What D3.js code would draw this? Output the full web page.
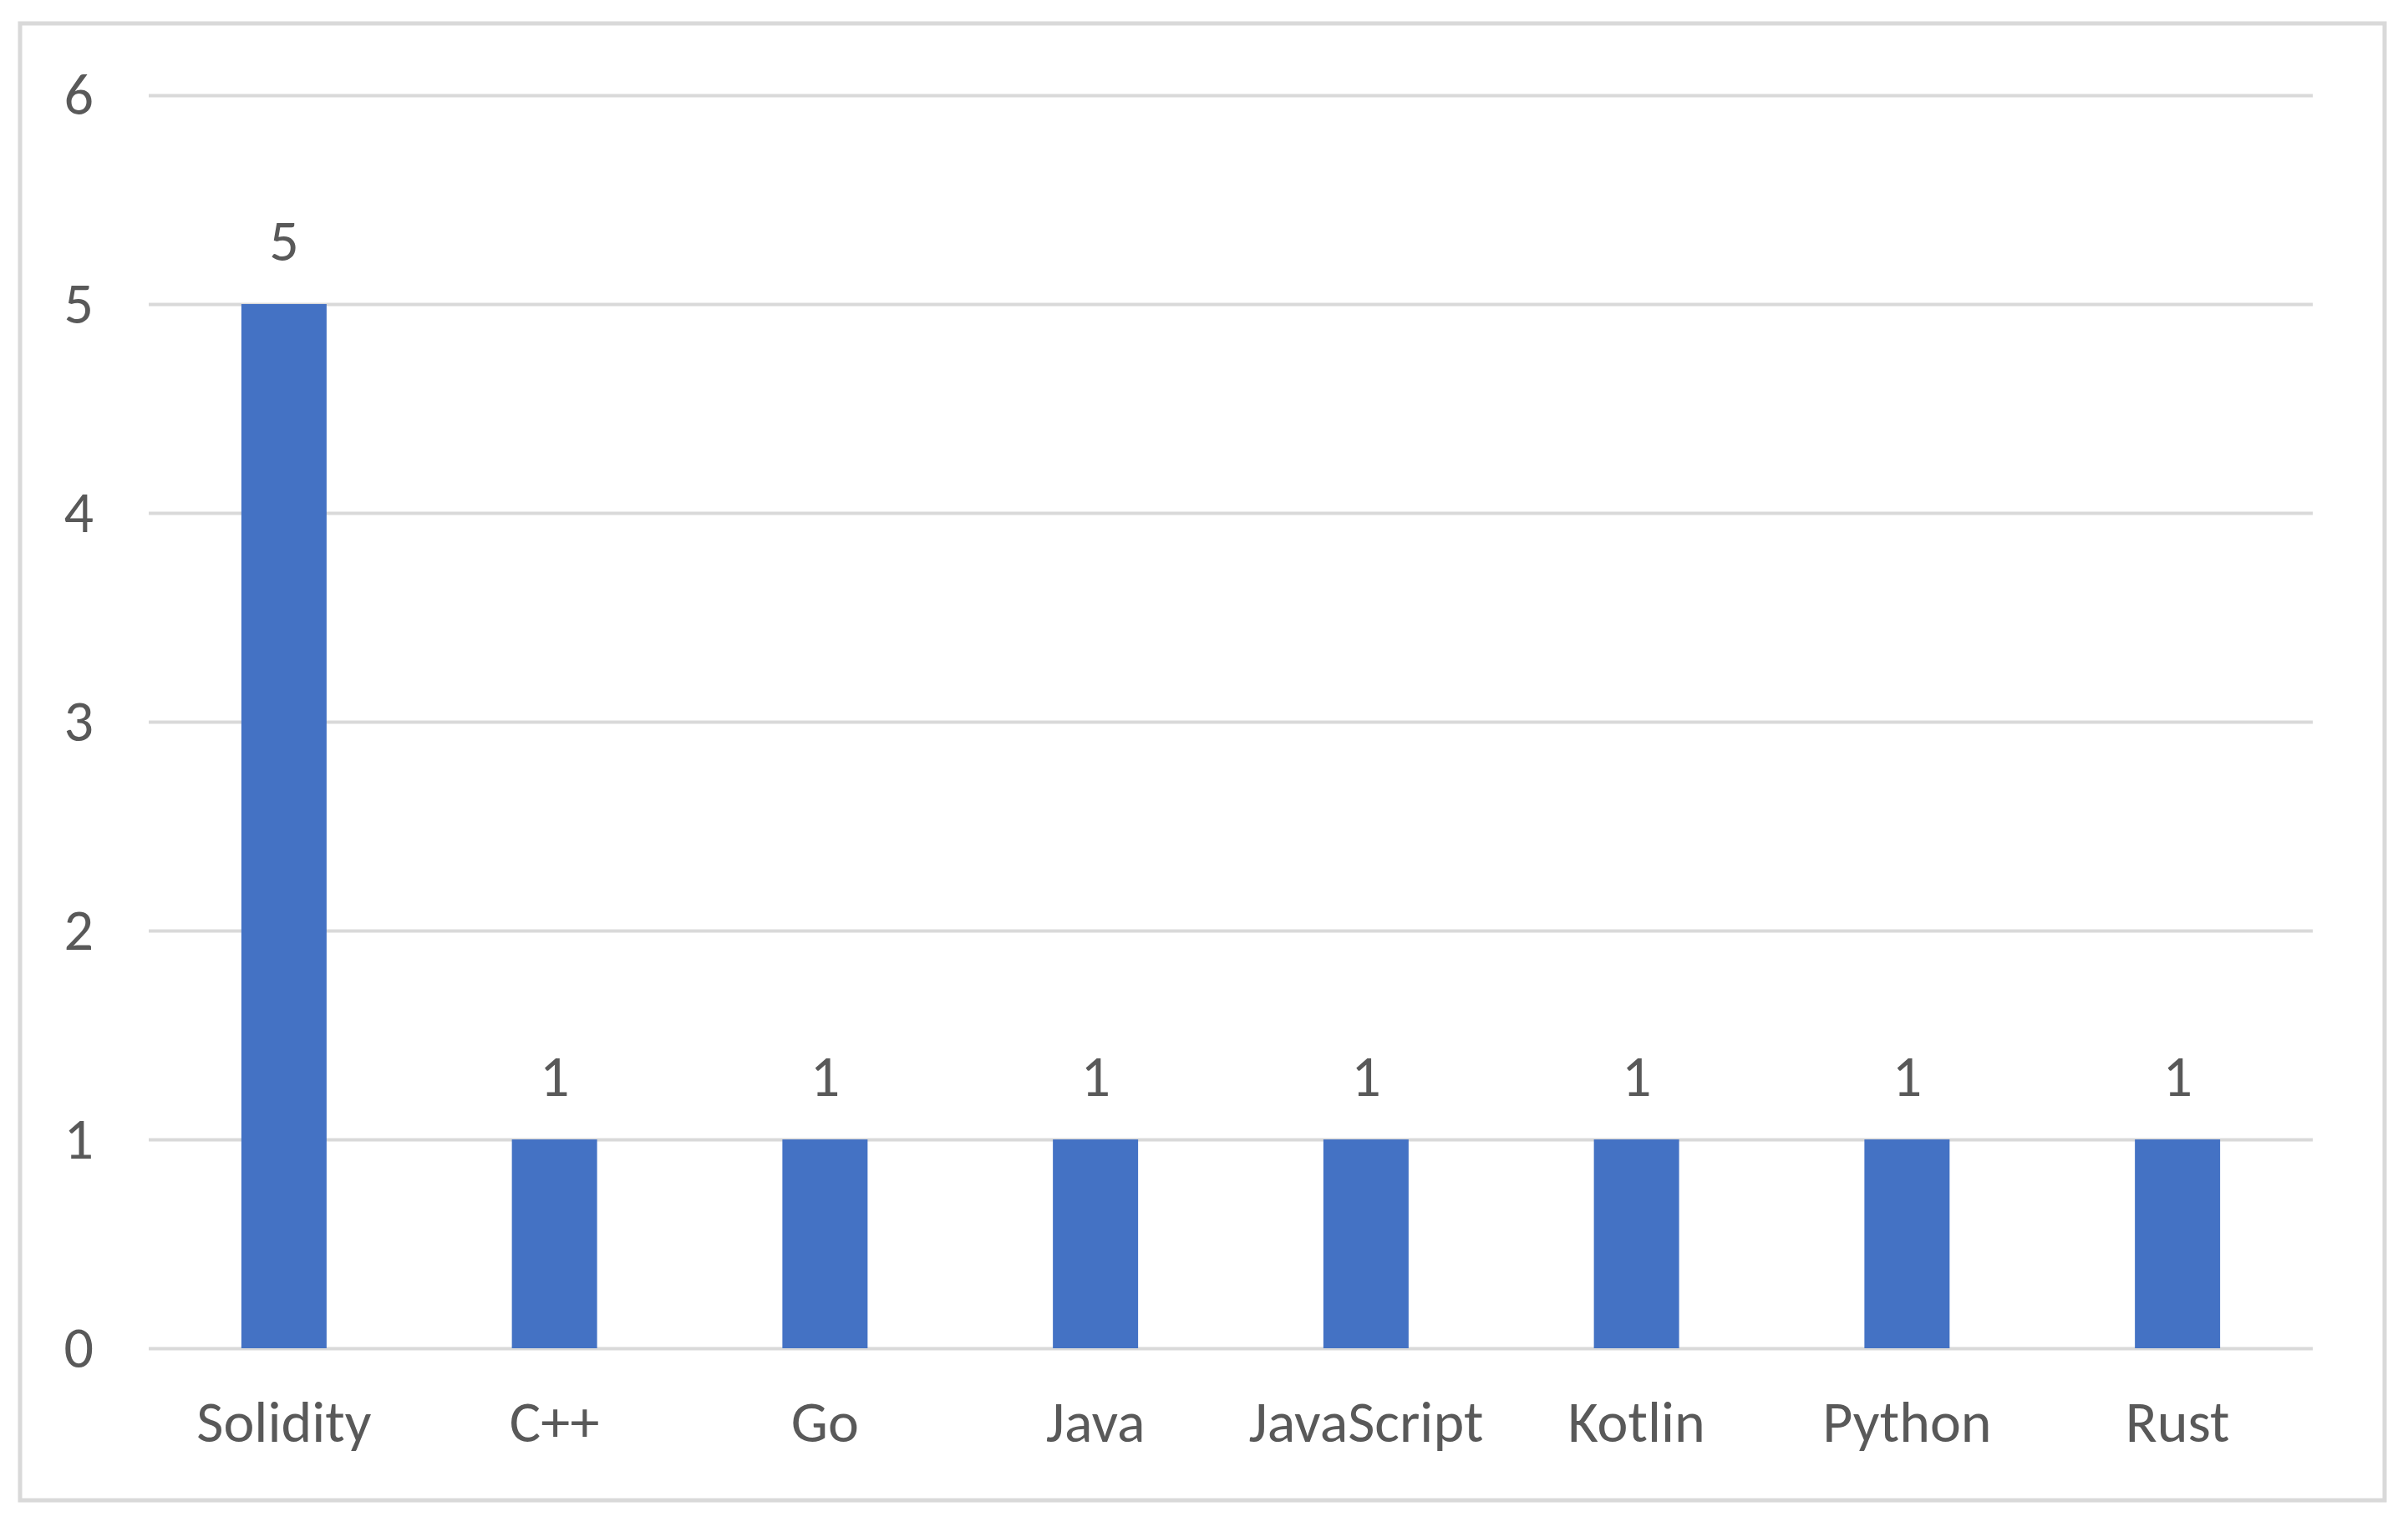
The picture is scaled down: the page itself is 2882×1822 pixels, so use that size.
<!DOCTYPE html>
<html>
<head>
<meta charset="utf-8">
<script src="https://cdn.jsdelivr.net/npm/d3@7"></script>
<style>
  body { margin: 0; background: #fff; }
  text { font-family: Calibri, Carlito, Lato, sans-serif; fill: #595959; }
</style>
</head>
<body>
<div id="chart"></div>
<script>
const languages = ['Solidity', 'C++', 'Go', 'Java', 'JavaScript', 'Kotlin', 'Python', 'Rust'];
const counts = [5, 1, 1, 1, 1, 1, 1, 1];
const yTicks = [0, 1, 2, 3, 4, 5, 6];

const data = languages.map((name, i) => ({ name: name, count: counts[i] }));

const width = 2882;
const height = 1822;
const margin = { top: 114, right: 114, bottom: 208, left: 178 };
const fontSize = 70;

const svg = d3.select('#chart')
    .append('svg')
    .attr('width', width)
    .attr('height', height);

// chart area border
svg.append('rect')
    .attr('x', 24)
    .attr('y', 28)
    .attr('width', 2830)
    .attr('height', 1768)
    .attr('fill', '#fff')
    .attr('stroke', '#d9d9d9')
    .attr('stroke-width', 5);

const x = d3.scaleBand()
    .domain(languages)
    .range([margin.left, width - margin.right])
    .paddingInner(0.685)
    .paddingOuter(0.3425);

const y = d3.scaleLinear()
    .domain([0, 6])
    .range([height - margin.bottom, margin.top]);

// gridlines + y labels
const yAxis = svg.append('g')
    .attr('transform', `translate(${margin.left},0)`)
    .call(d3.axisLeft(y).tickValues(yTicks).tickSize(-(width - margin.left - margin.right)).tickPadding(66).tickFormat(d3.format('d')));

yAxis.select('.domain').remove();
yAxis.selectAll('.tick line')
    .attr('stroke', '#d9d9d9')
    .attr('stroke-width', 4);
yAxis.selectAll('.tick text')
    .attr('font-size', fontSize)
    .attr('fill', '#595959');

// bars
svg.selectAll('.bar')
    .data(data)
    .enter()
    .append('rect')
    .attr('class', 'bar')
    .attr('x', d => x(d.name))
    .attr('y', d => y(d.count))
    .attr('width', x.bandwidth())
    .attr('height', d => y(0) - y(d.count))
    .attr('fill', '#4472c4');

// value labels
svg.selectAll('.value')
    .data(data)
    .enter()
    .append('text')
    .attr('class', 'value')
    .attr('x', d => x(d.name) + x.bandwidth() / 2)
    .attr('y', d => y(d.count) - 52)
    .attr('text-anchor', 'middle')
    .attr('font-size', fontSize)
    .text(d => d.count);

// category labels
const xAxis = svg.append('g')
    .attr('transform', `translate(0,${height - margin.bottom})`)
    .call(d3.axisBottom(x).tickSize(0).tickPadding(0));

xAxis.select('.domain').remove();
xAxis.selectAll('.tick text')
    .attr('dy', 0)
    .attr('y', 112)
    .attr('font-size', fontSize)
    .attr('fill', '#595959');
</script>
</body>
</html>
